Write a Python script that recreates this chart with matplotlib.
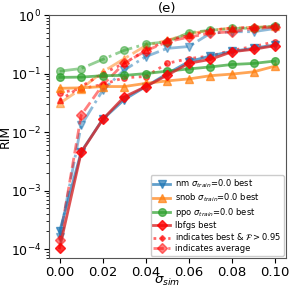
import numpy as np
import matplotlib
matplotlib.use('Agg')
import matplotlib.pyplot as plt

# sigma_sim values
sigma_sim = [0.0, 0.01, 0.02, 0.03, 0.04, 0.05, 0.06, 0.07, 0.08, 0.09, 0.10]

# best (sigma_train = 0.0)
nm_best = [2.0e-4, 4.6e-3, 0.0165, 0.036, 0.060, 0.100, 0.160, 0.200, 0.240, 0.270, 0.310]
snob_best = [0.056, 0.057, 0.060, 0.060, 0.068, 0.075, 0.081, 0.092, 0.098, 0.107, 0.134]
ppo_best = [0.086, 0.087, 0.092, 0.093, 0.100, 0.110, 0.120, 0.130, 0.143, 0.149, 0.164]
lbfgs_best = [1.05e-4, 4.5e-3, 0.0165, 0.040, 0.060, 0.094, 0.150, 0.175, 0.236, 0.260, 0.300]

# best & fidelity > 0.95
snob_fid = [0.035, 0.060, 0.100, 0.150, 0.250, 0.370, 0.450, 0.550, 0.600, 0.620, 0.650]
ppo_fid = [0.047, 0.055, 0.065, 0.085, 0.089, 0.150, 0.180, 0.200, 0.250, 0.290, 0.350]

# averages
nm_avg = [1.6e-4, 0.013, 0.052, 0.115, 0.195, 0.270, 0.290, 0.490, 0.520, 0.520, 0.590]
snob_avg = [0.031, 0.055, 0.107, 0.180, 0.300, 0.370, 0.480, 0.550, 0.600, 0.620, 0.640]
ppo_avg = [0.110, 0.122, 0.175, 0.250, 0.320, 0.350, 0.500, 0.550, 0.590, 0.600, 0.650]
lbfgs_avg = [1.4e-4, 0.0195, 0.064, 0.150, 0.245, 0.350, 0.420, 0.490, 0.520, 0.590, 0.620]

fig = plt.figure(figsize=(2.91, 2.90), dpi=100)
ax = fig.add_axes([0.168, 0.11, 0.815, 0.838])

# averages (light)
ax.plot(sigma_sim, nm_avg, color='tab:blue', ls='-.', marker='v', ms=5.5, lw=2, alpha=0.5)
ax.plot(sigma_sim, snob_avg, color='tab:orange', ls='-.', marker='^', ms=5.5, lw=2, alpha=0.5)
ax.plot(sigma_sim, ppo_avg, color='tab:green', ls='-.', marker='o', ms=5.5, lw=2, alpha=0.5)
ax.plot(sigma_sim, lbfgs_avg, color='red', ls='--', marker='D', ms=5.5, lw=2, alpha=0.5)

# best & F > 0.95
ax.plot(sigma_sim, snob_fid, color='red', ls=':', marker='^', ms=4, lw=2, alpha=0.6)
ax.plot(sigma_sim, ppo_fid, color='red', ls=':', marker='o', ms=4, lw=2, alpha=0.6)

# best
ax.plot(sigma_sim, nm_best, color='tab:blue', ls='-', marker='v', ms=5.5, lw=2, alpha=0.7,
        label=r'nm $\sigma_{train}$=0.0 best')
ax.plot(sigma_sim, snob_best, color='tab:orange', ls='-', marker='^', ms=5.5, lw=2, alpha=0.7,
        label=r'snob $\sigma_{train}$=0.0 best')
ax.plot(sigma_sim, ppo_best, color='tab:green', ls='-', marker='o', ms=5.5, lw=2, alpha=0.7,
        label=r'ppo $\sigma_{train}$=0.0 best')
ax.plot(sigma_sim, lbfgs_best, color='#d62728', mfc='red', mec='red', ls='-', marker='D', ms=5.5,
        lw=2, alpha=0.8, label='lbfgs best')

# legend only entries
ax.plot([], [], color='red', ls=':', marker='D', ms=3, lw=2, alpha=0.6,
        label=r'indicates best & $\mathcal{F}>0.95$')
ax.plot([], [], color='red', ls='--', marker='D', ms=5.5, lw=2, alpha=0.5,
        label='indicates average')

ax.set_yscale('log')
ax.set_ylim(7e-5, 1)
ax.set_xlim(-0.005, 0.1051)
ax.set_xticks([0.0, 0.02, 0.04, 0.06, 0.08, 0.10])
ax.tick_params(axis='x', labelsize=9.5, pad=2)
ax.tick_params(axis='y', labelsize=9, pad=2)
ax.set_xlabel(r'$\sigma_{sim}$', fontsize=9.5)
ax.xaxis.set_label_coords(0.5, -0.07)
ax.set_ylabel('RIM', fontsize=9)
ax.yaxis.set_label_coords(-0.155, 0.5)
ax.set_title('(e)', fontsize=9.5, pad=2)
for s in ax.spines.values():
    s.set_color('#555555')
ax.legend(loc='lower right', fontsize=6, framealpha=1.0, borderaxespad=0.3,
          labelspacing=0.2, borderpad=0.3, handlelength=2.0, handletextpad=0.6)

fig.savefig('out.png', dpi=100)
